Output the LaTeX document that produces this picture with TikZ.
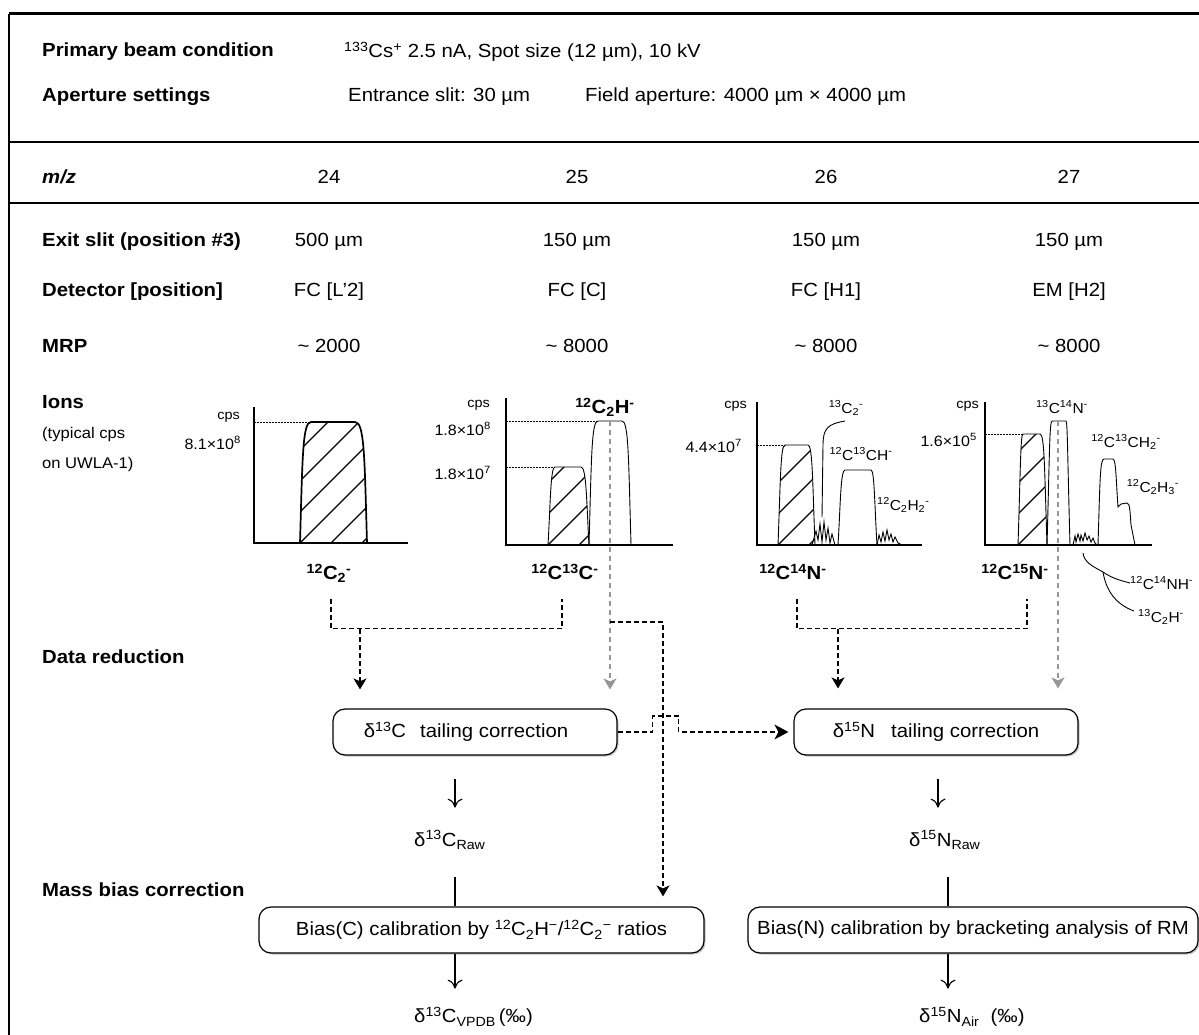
\documentclass[tikz,border=0pt]{standalone}
\usepackage{fontspec}
\setmainfont{Liberation Sans}[FakeStretch=1.07]
\usetikzlibrary{arrows.meta,shadows,calc}

\definecolor{midgray}{RGB}{150,150,150}

\newcommand{\sps}[1]{\textsuperscript{#1}}
\newcommand{\sbs}[1]{\textsubscript{#1}}
% flat-topped peak: [opts]{left base}{left top}{right top}{right base}{top}{base}
\newcommand{\specpeak}[7][]{\draw[#1] (#2,#7) .. controls (#2+2.5,#6+35) and (#2+2.5,#6) .. (#3,#6) -- (#4,#6) .. controls (#5-2.5,#6) and (#5-2.5,#6+35) .. (#5,#7);}
\newcommand{\hatchpeak}[7][]{%
  \begin{scope}
    \clip (#2,#7) .. controls (#2+2.5,#6+35) and (#2+2.5,#6) .. (#3,#6) -- (#4,#6) .. controls (#5-2.5,#6) and (#5-2.5,#6+35) .. (#5,#7) -- cycle;
    \foreach \k in {-155,-124,...,80} \draw[hatch] (#2+\k,#7) -- ++(200,-200);
  \end{scope}
  \specpeak[#1]{#2}{#3}{#4}{#5}{#6}{#7}}

\tikzset{
  rowlab/.style={anchor=west, inner sep=0pt, font=\bfseries\fontsize{19}{22}\selectfont},
  val/.style={inner sep=0pt, font=\fontsize{19}{22}\selectfont},
  note/.style={anchor=west, inner sep=0pt, font=\fontsize{15.5}{18}\selectfont},
  cpslab/.style={anchor=east, inner sep=0pt, font=\fontsize{13.5}{16}\selectfont},
  ticklab/.style={anchor=east, inner sep=0pt, font=\fontsize{15}{17}\selectfont},
  ionlab/.style={inner sep=0pt, text height=15pt, text depth=4pt, font=\bfseries\fontsize{19}{22}\selectfont},
  spec/.style={inner sep=0pt, font=\fontsize{14.5}{17}\selectfont},
  axis/.style={line width=2pt},
  refline/.style={line width=0.9pt, dash pattern=on 1.5pt off 1.5pt},
  hatch/.style={line width=1.3pt},
  thinpk/.style={line width=0.9pt},
  blkdash/.style={line width=1.4pt, dash pattern=on 5pt off 3pt},
  grydash/.style={midgray, line width=1.6pt, dash pattern=on 5pt off 4pt},
  dtip/.style={-{Stealth[length=11pt,width=13pt,inset=3pt]}},
  arr/.style={line width=1.1pt, -{To[length=9pt,width=15pt]}},
  procbox/.style={draw, line width=1.2pt, rounded corners=12pt, fill=white,
    minimum height=46pt, inner sep=4pt, font=\fontsize{19}{22}\selectfont,
    drop shadow={shadow xshift=1.5pt, shadow yshift=-1.5pt, fill=black!45}},
}

\begin{document}
\begin{tikzpicture}[x=1pt,y=-1pt]
\useasboundingbox (0,0) rectangle (1199,1035);

% frame
\draw[line width=3pt] (9,14) -- (1199,14);
\draw[line width=2pt] (9,14) -- (9,1035);
\draw[line width=2.5pt] (9,142) -- (1199,142);
\draw[line width=2.5pt] (9,203) -- (1199,203);

% settings
\node[rowlab] (pbc) at (42,52) {Primary beam condition};
\node[val, anchor=west] (pbcval) at (344,52) {\sps{133}Cs\sps{+} 2.5 nA, Spot size (12 µm), 10 kV};
\node[rowlab] (aps) at (42,97) {Aperture settings};
\node[val, anchor=west] (ent) at (348,97) {Entrance slit: 30 µm};
\node[val, anchor=west] (fap) at (585,97) {Field aperture: 4000 µm × 4000 µm};

\node[rowlab, font=\bfseries\itshape\fontsize{19}{22}\selectfont] (mz) at (42,177) {m/z};
\node[val] (mz1) at (329,177) {24};
\node[val] (mz2) at (577,177) {25};
\node[val] (mz3) at (826,177) {26};
\node[val] (mz4) at (1069,177) {27};

\node[rowlab] (exs) at (42,242) {Exit slit (position \#3)};
\node[val] (es1) at (329,242) {500 µm};
\node[val] (es2) at (577,242) {150 µm};
\node[val] (es3) at (826,242) {150 µm};
\node[val] (es4) at (1069,242) {150 µm};

\node[rowlab] (det) at (42,292) {Detector [position]};
\node[val] (det1) at (329,292) {FC [L’2]};
\node[val] (det2) at (577,292) {FC [C]};
\node[val] (det3) at (826,292) {FC [H1]};
\node[val] (det4) at (1069,292) {EM [H2]};

\node[rowlab] (mrp) at (42,346) {MRP};
\node[val] (mrp1) at (329,346) {\textasciitilde{} 2000};
\node[val] (mrp2) at (577,346) {\textasciitilde{} 8000};
\node[val] (mrp3) at (826,346) {\textasciitilde{} 8000};
\node[val] (mrp4) at (1069,346) {\textasciitilde{} 8000};

\node[rowlab] (ions) at (42,402) {Ions};
\node[note] (typ1) at (42,434) {(typical cps};
\node[note] (typ2) at (42,464) {on UWLA-1)};

% panel m/z 24
\draw[axis] (254,407) -- (254,543) -- (408,543);
\node[cpslab] (cps1) at (240,417) {cps};
\node[ticklab] (tk1) at (241,443) {8.1×10\sps{8}};
\draw[refline] (254,422) -- (311,422);
\hatchpeak[line width=1.7pt]{300}{311}{355}{367}{422}{543}
\node[ionlab] (c2lab) at (329,574) {\sps{12}C\sbs{2}\sps{-}};

% panel m/z 25
\draw[axis] (506,398) -- (506,545) -- (673,545);
\node[cpslab] (cps2) at (490,405) {cps};
\node[ticklab] (tk2a) at (491,429) {1.8×10\sps{8}};
\node[ticklab] (tk2b) at (491,473) {1.8×10\sps{7}};
\draw[refline] (506,421) -- (597,421);
\draw[refline] (506,467) -- (555,467);
\hatchpeak[thinpk]{548}{555}{581}{589}{467}{545}
\specpeak[thinpk]{589}{598}{622}{631}{421}{545}
\node[ionlab] (c2hlab) at (605,408) {\sps{12}C\sbs{2}H\sps{-}};
\node[ionlab] (c13lab) at (565,574) {\sps{12}C\sps{13}C\sps{-}};

% panel m/z 26
\draw[axis] (757,402) -- (757,545) -- (922,545);
\node[cpslab] (cps3) at (747,406) {cps};
\node[ticklab] (tk3) at (742,446) {4.4×10\sps{7}};
\draw[refline] (757,445) -- (785,445);
\hatchpeak[thinpk]{778}{785}{808}{815}{445}{545}
\specpeak[thinpk]{838}{845}{871}{877}{470}{545}
\draw[thinpk] (812,545) -- (816,531) -- (818,540) -- (820,524) -- (822,542) -- (824,522) -- (826,540) -- (828,528) -- (830,543) -- (832,534) -- (835,545);
\draw[thinpk] (877,545) -- (879,535) -- (881,542) -- (883,532) -- (885,541) -- (887,530) -- (889,540) -- (891,534) -- (893,542) -- (895,537) -- (898,543) -- (902,545);
\node[spec] (c2thirteen) at (846,408) {\sps{13}C\sbs{2}\sps{-}};
\node[spec] (cchlab) at (861,454) {\sps{12}C\sps{13}CH\sps{-}};
\node[spec, anchor=west] (ch2lab) at (877,505) {\sps{12}C\sbs{2}H\sbs{2}\sps{-}};
\draw[thinpk] (845,421) .. controls (828,424) and (823,428) .. (823,445) -- (822,517);
\node[ionlab] (cnlab) at (793,574) {\sps{12}C\sps{14}N\sps{-}};

% panel m/z 27
\draw[axis] (985,402) -- (985,545) -- (1152,545);
\node[cpslab] (cps4) at (979,406) {cps};
\node[ticklab] (tk4) at (977,440) {1.6×10\sps{5}};
\draw[refline] (985,434) -- (1023,434);
\hatchpeak[thinpk]{1018}{1023}{1040}{1047}{434}{545}
\specpeak[thinpk]{1047}{1052}{1066}{1070}{421}{545}
\draw[thinpk] (1073,545) -- (1075,536) -- (1076,542) -- (1078,534) -- (1080,541) -- (1081,535) -- (1083,541) -- (1085,533) -- (1087,540) -- (1089,536) -- (1091,542) -- (1093,538) -- (1095,543) -- (1097,545);
\draw[thinpk] (1098,545) .. controls (1100,480) and (1100,459) .. (1104,459) -- (1113,459) .. controls (1116,459) and (1116,480) .. (1118,507) -- (1121,504) -- (1127,503) .. controls (1130,503) and (1130,512) .. (1131,525) -- (1135,545);
\node[spec] (cnthirteen) at (1062,407) {\sps{13}C\sps{14}N\sps{-}};
\node[spec] (cch2lab) at (1126,442) {\sps{12}C\sps{13}CH\sbs{2}\sps{-}};
\node[spec] (ch3lab) at (1153,487) {\sps{12}C\sbs{2}H\sbs{3}\sps{-}};
\node[spec, anchor=west] (cnhlab) at (1130,583) {\sps{12}C\sps{14}NH\sps{-}};
\node[spec, anchor=west] (c2hthirteen) at (1138,617) {\sps{13}C\sbs{2}H\sps{-}};
\draw[thinpk] (1083,553) .. controls (1084,562) and (1092,566) .. (1103,572) .. controls (1110,577) and (1118,580) .. (cnhlab.west);
\draw[thinpk] (1103,572) .. controls (1106,590) and (1115,604) .. ($(c2hthirteen.west)+(-4,-6)$);
\node[ionlab] (c15lab) at (1015,574) {\sps{12}C\sps{15}N\sps{-}};

% data reduction
\node[rowlab] (dred) at (42,657) {Data reduction};
\node[procbox, minimum width=284pt] (tcc) at (475,732) {δ\sps{13}C\hspace{14pt}tailing correction\hspace*{18pt}};
\node[procbox, minimum width=284pt] (ntc) at (936,732) {δ\sps{15}N\hspace{16pt}tailing correction};

\coordinate (cjoin) at (360,629);
\coordinate (njoin) at (838,629);
\coordinate (chtop) at (610,421);
\coordinate (cntop) at (1058,421);
\coordinate (cbranch) at (610,622);
\coordinate (ccross) at (663,622);

\draw[blkdash] ($(c2lab.south)+(2,15)$) |- ($(c13lab.south)+(-3,45)$) -- ($(c13lab.south)+(-3,15)$);
\draw[blkdash] ($(cnlab.south)+(4,15)$) |- ($(c15lab.south)+(12,45)$) -- ($(c15lab.south)+(12,15)$);
\draw[blkdash, dtip] (cjoin) -- ($(cjoin |- tcc.north)+(0,-19)$);
\draw[blkdash, dtip] (njoin) -- ($(njoin |- ntc.north)+(0,-20)$);
\draw[grydash, dtip] (chtop) -- ($(chtop |- tcc.north)+(0,-19)$);
\draw[grydash, dtip] (cntop) -- ($(cntop |- ntc.north)+(0,-20)$);

% mass bias
\node[rowlab] (mbc) at (42,890) {Mass bias correction};
\node[procbox, minimum width=445pt] (biasc) at (481.5,930) {Bias(C) calibration by \sps{12}C\sbs{2}H\sps{−}/\sps{12}C\sbs{2}\sps{−} ratios};
\node[procbox, minimum width=450pt] (biasn) at (973,930) {Bias(N) calibration by bracketing analysis of RM};

\draw[blkdash, dtip] (cbranch) -- (ccross) -- ($(ccross |- biasc.north)+(0,-10)$);
\draw[blkdash, -{Stealth[length=14pt,width=15pt,inset=4pt]}, shorten >=5pt] (tcc.east) -- ++(35,0) -- ++(0,-16) -- ++(26,0) -- ++(0,16) -- (ntc.west);

\coordinate (ccol) at (455,0);
\coordinate (ncol) at (948,0);
\node[val, anchor=west] (craw) at (414,840) {δ\sps{13}C\sbs{Raw}};
\node[val, anchor=west] (nraw) at (909,840) {δ\sps{15}N\sbs{Raw}};
\node[val, anchor=west] (cvpdb) at (414,1017) {δ\sps{13}C\sbs{VPDB}\,(‰)};
\node[val, anchor=west] (nair) at (919,1017) {δ\sps{15}N\sbs{Air}\ \ (‰)};

\draw[arr] ($(tcc.south -| ccol)+(0,23)$) -- ($(tcc.south -| ccol)+(0,52)$);
\draw[arr] ($(ntc.south -| ncol)+(-10,23)$) -- ($(ntc.south -| ncol)+(-10,52)$);
\draw[line width=1.1pt] ($(biasc.north -| ccol)+(0,-29)$) -- (biasc.north -| ccol);
\draw[line width=1.1pt] ($(biasn.north -| ncol)+(0,-29)$) -- (biasn.north -| ncol);
\draw[arr] (biasc.south -| ccol) -- ($(biasc.south -| ccol)+(0,35)$);
\draw[arr] (biasn.south -| ncol) -- ($(biasn.south -| ncol)+(0,35)$);

\end{tikzpicture}
\end{document}
